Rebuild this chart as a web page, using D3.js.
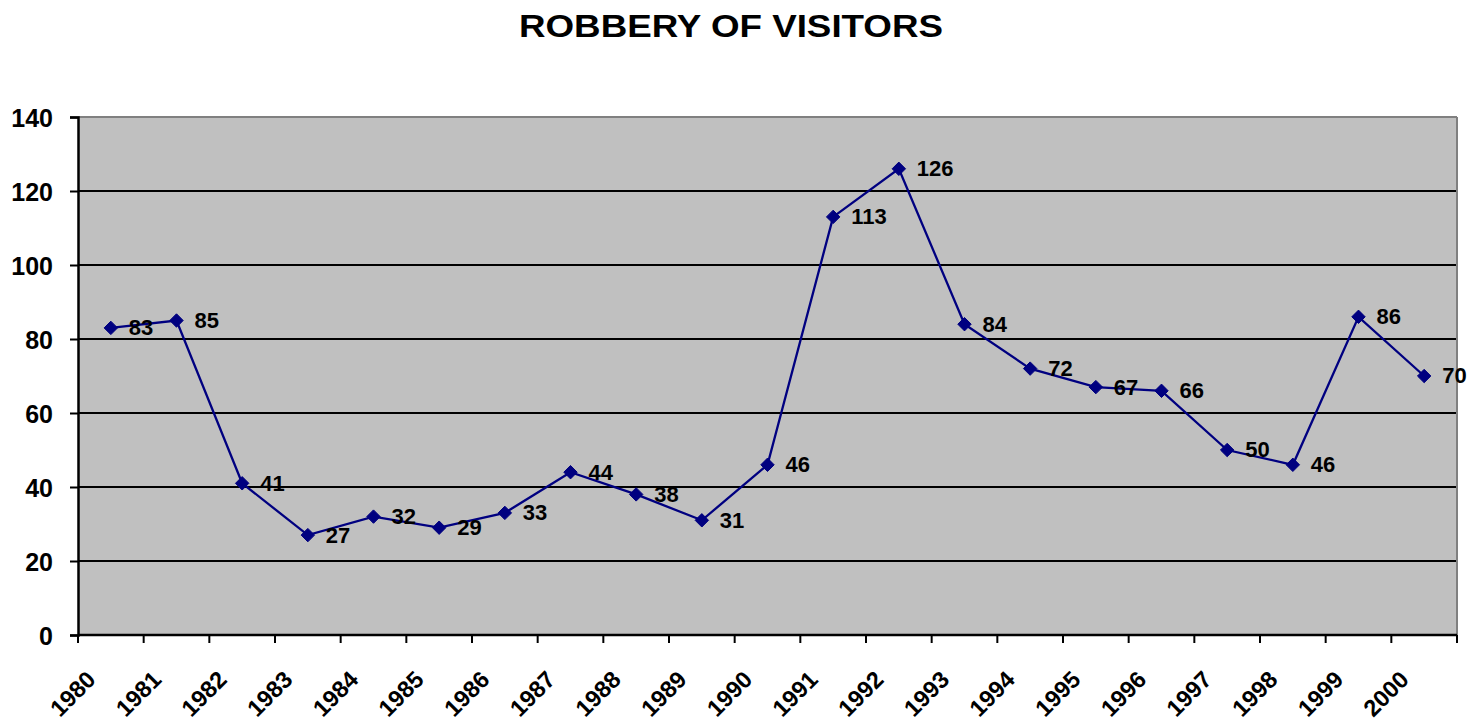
<!DOCTYPE html>
<html>
<head>
<meta charset="utf-8">
<script src="https://cdn.jsdelivr.net/npm/d3@7"></script>
<style>
  html, body { margin: 0; padding: 0; background: #fff; }
  text { font-family: "Liberation Sans", Arial, sans-serif; font-weight: bold; fill: #000; }
</style>
</head>
<body>
<svg id="chart" width="1479" height="724"></svg>
<script>
const title = "ROBBERY OF VISITORS";
const years = ["1980","1981","1982","1983","1984","1985","1986","1987","1988","1989","1990","1991","1992","1993","1994","1995","1996","1997","1998","1999","2000"];
const robberies = [83,85,41,27,32,29,33,44,38,31,46,113,126,84,72,67,66,50,46,86,70];
const yTicks = [0,20,40,60,80,100,120,140];

const svg = d3.select("#chart");
const pLeft = 78, pRight = 1457, pTop = 117, pBottom = 635;

const x = d3.scaleBand().domain(years).range([pLeft, pRight]).paddingInner(0).paddingOuter(0);
const y = d3.scaleLinear().domain([0, 140]).range([pBottom, pTop]);

// title
svg.append("text")
  .attr("x", 731).attr("y", 37)
  .attr("text-anchor", "middle")
  .attr("textLength", 424).attr("lengthAdjust", "spacingAndGlyphs")
  .style("font-size", "31px")
  .text(title);

// plot background
svg.append("rect")
  .attr("x", pLeft).attr("y", pTop)
  .attr("width", pRight - pLeft).attr("height", pBottom - pTop)
  .attr("fill", "#c0c0c0");

// gridlines
svg.append("g").selectAll("line")
  .data(yTicks.filter(d => d > 0 && d < 140))
  .join("line")
  .attr("x1", pLeft).attr("x2", pRight)
  .attr("y1", d => y(d)).attr("y2", d => y(d))
  .attr("stroke", "#000").attr("stroke-width", 2);

// top & right border
svg.append("line").attr("x1", pLeft).attr("x2", pRight).attr("y1", pTop).attr("y2", pTop)
  .attr("stroke", "#808080").attr("stroke-width", 2);
svg.append("line").attr("x1", pRight).attr("x2", pRight).attr("y1", pTop).attr("y2", pBottom)
  .attr("stroke", "#808080").attr("stroke-width", 2);

// y axis
const yAxis = d3.axisLeft(y).tickValues(yTicks).tickSize(8).tickPadding(10).tickFormat(d3.format("d"));
const gy = svg.append("g").attr("transform", `translate(${pLeft},0)`).call(yAxis);
gy.select(".domain").attr("stroke", "#000").attr("stroke-width", 2.5);
gy.selectAll(".tick line").attr("stroke", "#000").attr("stroke-width", 2);
gy.selectAll(".tick text").style("font-size", "25px").style("font-family", "'Liberation Sans', Arial, sans-serif")
  .attr("dy", "0.36em").attr("x", -25);

// x axis: ticks at band boundaries
const boundaries = years.map(d => x(d)).concat([pRight]);
const gx = svg.append("g");
gx.append("line").attr("x1", pLeft).attr("x2", pRight).attr("y1", pBottom).attr("y2", pBottom)
  .attr("stroke", "#000").attr("stroke-width", 2.5);
gx.selectAll("line.tk").data(boundaries).join("line").attr("class", "tk")
  .attr("x1", d => d).attr("x2", d => d).attr("y1", pBottom).attr("y2", pBottom + 8)
  .attr("stroke", "#000").attr("stroke-width", 2);
gx.selectAll("text").data(years).join("text")
  .attr("transform", d => `translate(${x(d) + 19},${pBottom + 46}) rotate(-45)`)
  .attr("text-anchor", "end")
  .style("font-size", "23.5px")
  .text(d => d);

// line
const pts = years.map((d, i) => ({ year: d, value: robberies[i] }));
const line = d3.line().x(d => x(d.year) + x.bandwidth() / 2).y(d => y(d.value));
svg.append("path").datum(pts)
  .attr("d", line).attr("fill", "none")
  .attr("stroke", "#000080").attr("stroke-width", 2.3);

// markers
svg.append("g").selectAll("path").data(pts).join("path")
  .attr("d", d3.symbol().type(d3.symbolDiamond2).size(115))
  .attr("transform", d => `translate(${x(d.year) + x.bandwidth() / 2},${y(d.value)})`)
  .attr("fill", "#000080").attr("stroke", "#000080").attr("stroke-width", 1);

// data labels
svg.append("g").selectAll("text").data(pts).join("text")
  .attr("x", d => x(d.year) + x.bandwidth() / 2 + 18)
  .attr("y", d => y(d.value))
  .attr("dy", "0.34em")
  .style("font-size", "22px")
  .text(d => d.value);
</script>
</body>
</html>
